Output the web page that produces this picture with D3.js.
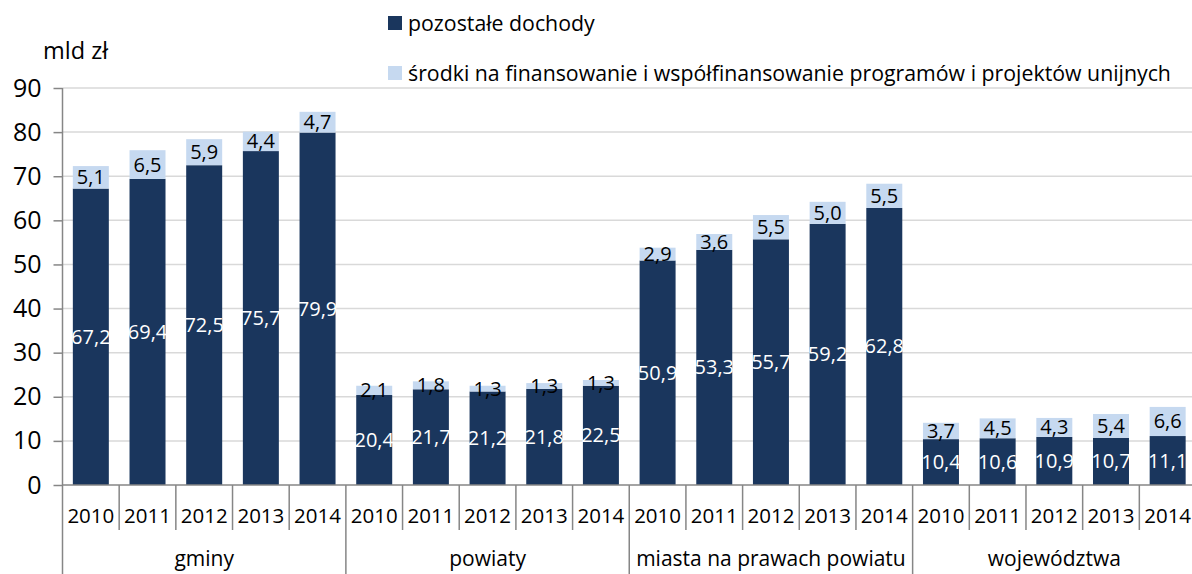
<!DOCTYPE html>
<html>
<head>
<meta charset="utf-8">
<script src="https://cdn.jsdelivr.net/npm/d3@7"></script>
<style>
  html, body { margin: 0; padding: 0; background: #ffffff; }
  svg { display: block; }
  text { font-family: "Open Sans", "Noto Sans", sans-serif; }
</style>
</head>
<body>
<svg id="chart" width="1192" height="574"></svg>
<script>
const groups = ["gminy", "powiaty", "miasta na prawach powiatu", "województwa"];
const years = ["2010", "2011", "2012", "2013", "2014"];
const seriesNames = ["pozostałe dochody", "środki na finansowanie i współfinansowanie programów i projektów unijnych"];
// values in group order, 5 years per group
const pozostale = [67.2, 69.4, 72.5, 75.7, 79.9,
                   20.4, 21.7, 21.2, 21.8, 22.5,
                   50.9, 53.3, 55.7, 59.2, 62.8,
                   10.4, 10.6, 10.9, 10.7, 11.1];
const srodki = [5.1, 6.5, 5.9, 4.4, 4.7,
                2.1, 1.8, 1.3, 1.3, 1.3,
                2.9, 3.6, 5.5, 5.0, 5.5,
                3.7, 4.5, 4.3, 5.4, 6.6];
const yTicks = [0, 10, 20, 30, 40, 50, 60, 70, 80, 90];
const unitLabel = "mld zł";

const colors = ["#1a365d", "#c6d9f0"];

const svg = d3.select("#chart");
const x0 = 62.5, x1 = 1196, yTop = 88, yBot = 485;

const rows = [];
groups.forEach((g, gi) => years.forEach((yr, yi) => {
  const i = gi * 5 + yi;
  rows.push({key: g + "|" + yr, group: g, year: yr, a: pozostale[i], b: srodki[i]});
}));

const x = d3.scaleBand().domain(rows.map(d => d.key)).range([x0, x1])
  .paddingInner(0.365).paddingOuter(0.1825);
const step = x.step();
const y = d3.scaleLinear().domain([0, 90]).range([yBot, yTop]);

// gridlines
svg.append("g").selectAll("line").data(yTicks.filter(t => t > 0)).join("line")
  .attr("x1", x0).attr("x2", 1192)
  .attr("y1", d => y(d)).attr("y2", d => y(d))
  .attr("stroke", "#d9d9d9").attr("stroke-width", 1.5);

// y axis
const yAxis = svg.append("g").attr("transform", `translate(${x0},0)`)
  .call(d3.axisLeft(y).tickValues(yTicks).tickSize(9).tickPadding(12));
yAxis.select(".domain").remove();
yAxis.selectAll(".tick line").attr("stroke", "#868686").attr("stroke-width", 1.5);
yAxis.selectAll(".tick text").attr("font-size", 25).attr("fill", "#000")
  .attr("font-family", "Open Sans");
svg.append("line").attr("x1", x0).attr("x2", x0).attr("y1", yTop).attr("y2", 574)
  .attr("stroke", "#868686").attr("stroke-width", 1.5);

// bars
const bars = svg.append("g");
bars.selectAll("rect.a").data(rows).join("rect").attr("class", "a")
  .attr("x", d => x(d.key)).attr("width", x.bandwidth())
  .attr("y", d => y(d.a)).attr("height", d => y(0) - y(d.a))
  .attr("fill", colors[0]);
bars.selectAll("rect.b").data(rows).join("rect").attr("class", "b")
  .attr("x", d => x(d.key)).attr("width", x.bandwidth())
  .attr("y", d => y(d.a + d.b)).attr("height", d => y(d.a) - y(d.a + d.b))
  .attr("fill", colors[1]);

const fmt = v => d3.format(".1f")(v).replace(".", ",");
const labels = svg.append("g").attr("text-anchor", "middle").attr("font-size", 20);
labels.selectAll("text.a").data(rows).join("text").attr("class", "a")
  .attr("x", d => x(d.key) + x.bandwidth() / 2)
  .attr("y", d => y(d.a / 2)).attr("dy", "0.35em")
  .attr("fill", "#ffffff").text(d => fmt(d.a));
labels.selectAll("text.b").data(rows).join("text").attr("class", "b")
  .attr("x", d => x(d.key) + x.bandwidth() / 2)
  .attr("y", d => y(d.a + d.b / 2)).attr("dy", "0.35em")
  .attr("fill", "#000000").text(d => fmt(d.b));

// x axis line
svg.append("line").attr("x1", x0).attr("x2", 1192).attr("y1", yBot).attr("y2", yBot)
  .attr("stroke", "#868686").attr("stroke-width", 1.5);

// year separators & labels
const sepG = svg.append("g");
rows.forEach((d, i) => {
  const left = x(d.key) - x.paddingInner() * step / 2;
  const right = left + step;
  const isGroupEnd = (i % 5 === 4);
  sepG.append("line").attr("x1", right).attr("x2", right)
    .attr("y1", yBot).attr("y2", isGroupEnd ? 574 : 530)
    .attr("stroke", "#868686").attr("stroke-width", 1.5);
});
svg.append("g").attr("text-anchor", "middle").attr("font-size", 20.5)
  .selectAll("text").data(rows).join("text")
  .attr("x", d => x(d.key) + x.bandwidth() / 2).attr("y", 523)
  .attr("fill", "#000").text(d => d.year);

// group labels
svg.append("g").attr("text-anchor", "middle").attr("font-size", 21)
  .selectAll("text").data(groups).join("text")
  .attr("x", (g, gi) => {
    const first = x(g + "|" + years[0]), last = x(g + "|" + years[4]);
    return (first + last + x.bandwidth()) / 2;
  })
  .attr("y", 566).attr("fill", "#000").text(g => g);

// unit label
svg.append("text").attr("x", 43).attr("y", 59).attr("font-size", 23.5)
  .attr("fill", "#000").text(unitLabel);

// legend
const leg = svg.append("g");
seriesNames.forEach((n, i) => {
  const ly = 16 + i * 50;
  leg.append("rect").attr("x", 388).attr("y", ly).attr("width", 14).attr("height", 14)
    .attr("fill", colors[i]);
  leg.append("text").attr("x", 408).attr("y", ly + 15).attr("font-size", 21.3)
    .attr("fill", "#000").text(n);
});
</script>
</body>
</html>
